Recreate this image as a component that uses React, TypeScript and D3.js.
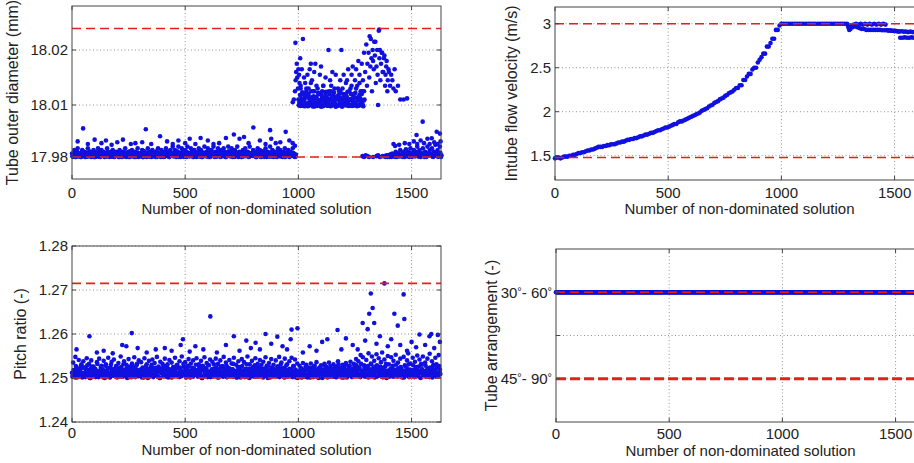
import React from 'react';
import * as d3 from 'd3';

type Pt = [number, number];

// x axis: solution number, shared by all four panels
const SOLUTION_MAX = 1630;
const xTicks = [0, 500, 1000, 1500];
const xTitle = 'Number of non-dominated solution';

// --- Tube outer diameter (mm) ---
const diameterTicks = [17.98, 18.01, 18.02];
const diameterBounds = [17.98, 18.0239];
// solutions 0..985, every 5th
const diameterLowBand = [
  17.982, 17.981, 17.984, 17.98, 17.983, 17.985, 17.981, 17.982, 17.98, 17.984,
  17.981, 17.983, 17.98, 17.982, 17.985, 17.981, 17.983, 17.98, 17.982, 17.984,
  17.98, 17.983, 17.981, 17.985, 17.982, 17.98, 17.984, 17.981, 17.983, 17.98,
  17.982, 17.985, 17.981, 17.98, 17.983, 17.982, 17.984, 17.98, 17.981, 17.983,
  17.981, 17.98, 17.984, 17.982, 17.98, 17.983, 17.981, 17.985, 17.98, 17.982,
  17.983, 17.98, 17.981, 17.984, 17.982, 17.98, 17.983, 17.981, 17.985, 17.98,
  17.982, 17.981, 17.984, 17.98, 17.983, 17.982, 17.98, 17.985, 17.981, 17.983,
  17.98, 17.984, 17.982, 17.981, 17.983, 17.98, 17.985, 17.982, 17.981, 17.984,
  17.982, 17.98, 17.983, 17.985, 17.981, 17.983, 17.98, 17.984, 17.982, 17.986,
  17.981, 17.984, 17.98, 17.983, 17.986, 17.982, 17.98, 17.985, 17.983, 17.981,
  17.984, 17.98, 17.986, 17.982, 17.981, 17.985, 17.983, 17.98, 17.984, 17.982,
  17.98, 17.983, 17.985, 17.981, 17.984, 17.98, 17.982, 17.986, 17.981, 17.983,
  17.985, 17.981, 17.98, 17.984, 17.982, 17.986, 17.98, 17.983, 17.981, 17.985,
  17.982, 17.98, 17.984, 17.981, 17.985, 17.983, 17.98, 17.982, 17.986, 17.981,
  17.983, 17.985, 17.98, 17.982, 17.984, 17.981, 17.986, 17.98, 17.983, 17.982,
  17.98, 17.984, 17.982, 17.985, 17.981, 17.983, 17.98, 17.986, 17.982, 17.981,
  17.984, 17.981, 17.983, 17.98, 17.985, 17.982, 17.984, 17.98, 17.981, 17.983,
  17.981, 17.985, 17.98, 17.983, 17.982, 17.986, 17.981, 17.984, 17.98, 17.982,
  17.983, 17.98, 17.985, 17.981, 17.984, 17.982, 17.98, 17.983, 17.985, 17.981,
  17.982, 17.984, 17.98, 17.983, 17.981, 17.985, 17.982, 17.98,
];
// solutions 2..987, every 5th (dense core of the band)
const diameterLowCore = [
  17.9805, 17.982, 17.9812, 17.98, 17.9828, 17.9815, 17.9803, 17.9822, 17.981, 17.9833,
  17.9818, 17.9801, 17.9826, 17.9808, 17.9815, 17.9831, 17.9804, 17.9821, 17.9812, 17.98,
  17.9827, 17.9809, 17.9817, 17.9802, 17.9834, 17.9813, 17.9806, 17.9824, 17.981, 17.9819,
  17.9803, 17.9829, 17.9811, 17.9822, 17.9807, 17.9816, 17.9832, 17.9801, 17.9825, 17.9814,
  17.9808, 17.982, 17.9803, 17.983, 17.9813, 17.9806, 17.9826, 17.9818, 17.9802, 17.9821,
  17.9814, 17.9833, 17.9805, 17.9819, 17.9809, 17.9828, 17.98, 17.9816, 17.9824, 17.9807,
  17.9822, 17.9811, 17.9801, 17.9835, 17.9817, 17.9804, 17.9826, 17.9813, 17.9829, 17.9802,
  17.9809, 17.9824, 17.9815, 17.9803, 17.9831, 17.982, 17.9806, 17.9818, 17.98, 17.9827,
  17.9816, 17.9802, 17.9829, 17.981, 17.9823, 17.9805, 17.9834, 17.9812, 17.9819, 17.9804,
  17.9825, 17.9813, 17.9807, 17.9832, 17.9801, 17.9821, 17.9815, 17.9828, 17.9809, 17.9818,
  17.9803, 17.983, 17.9817, 17.9806, 17.9824, 17.9811, 17.9835, 17.98, 17.9822, 17.9814,
  17.9827, 17.9808, 17.9819, 17.9802, 17.9831, 17.9816, 17.9805, 17.9825, 17.9812, 17.9829,
  17.9801, 17.9821, 17.9813, 17.9834, 17.9807, 17.9818, 17.9826, 17.9803, 17.9815, 17.9832,
  17.981, 17.9824, 17.9804, 17.9828, 17.9817, 17.9801, 17.9822, 17.9809, 17.9833, 17.9814,
  17.9806, 17.9819, 17.983, 17.9802, 17.9825, 17.9812, 17.9808, 17.9827, 17.9816, 17.98,
  17.9823, 17.9811, 17.9834, 17.9805, 17.9818, 17.9829, 17.9803, 17.9821, 17.9813, 17.9807,
  17.9831, 17.9815, 17.9801, 17.9826, 17.9809, 17.9822, 17.9817, 17.9804, 17.9833, 17.9812,
  17.9819, 17.9806, 17.9828, 17.9814, 17.9802, 17.9824, 17.981, 17.9835, 17.9808, 17.982,
  17.9803, 17.9827, 17.9816, 17.9809, 17.9831, 17.9805, 17.9822, 17.9813, 17.98, 17.9825,
  17.9811, 17.9829, 17.9804, 17.9818, 17.9806, 17.9823, 17.9815, 17.9802,
];
// solutions 4..989, every 5th (points sitting on the lower limit)
const diameterLowBase = [
  17.9801, 17.9812, 17.9806, 17.9819, 17.9803, 17.9824, 17.9809, 17.98, 17.9815, 17.9807,
  17.9821, 17.9804, 17.9813, 17.9802, 17.9818, 17.9808, 17.9825, 17.9805, 17.9811, 17.9816,
  17.98, 17.9822, 17.9809, 17.9814, 17.9803, 17.9819, 17.9806, 17.9823, 17.9801, 17.9812,
  17.9817, 17.9805, 17.9824, 17.9808, 17.9802, 17.9815, 17.9811, 17.9804, 17.982, 17.9807,
  17.9813, 17.98, 17.9818, 17.9822, 17.9806, 17.9803, 17.9816, 17.9825, 17.9809, 17.9801,
  17.9814, 17.9807, 17.9821, 17.9804, 17.9812, 17.9819, 17.9802, 17.9808, 17.9823, 17.9811,
  17.9805, 17.9817, 17.98, 17.9813, 17.9824, 17.9806, 17.981, 17.9803, 17.9818, 17.9815,
  17.9802, 17.9822, 17.9809, 17.9801, 17.9816, 17.9807, 17.9825, 17.9812, 17.9804, 17.982,
  17.9811, 17.9803, 17.9819, 17.9806, 17.9814, 17.98, 17.9823, 17.9808, 17.9817, 17.9805,
  17.9821, 17.9809, 17.9802, 17.9815, 17.9812, 17.9824, 17.9804, 17.9818, 17.9801, 17.9813,
  17.9807, 17.982, 17.9814, 17.9803, 17.9822, 17.981, 17.9806, 17.9816, 17.9825, 17.9802,
  17.9818, 17.9805, 17.9811, 17.9823, 17.98, 17.9814, 17.9808, 17.9819, 17.9803, 17.9821,
  17.9812, 17.9801, 17.9817, 17.9806, 17.9824, 17.9809, 17.9815, 17.9802, 17.982, 17.9807,
  17.9813, 17.9822, 17.9804, 17.9818, 17.9811, 17.98, 17.9825, 17.9808, 17.9816, 17.9803,
  17.9819, 17.9806, 17.9814, 17.9801, 17.9823, 17.981, 17.9805, 17.9821, 17.9812, 17.9817,
  17.9802, 17.9815, 17.9809, 17.9824, 17.9807, 17.9818, 17.9803, 17.9813, 17.982, 17.9806,
  17.9822, 17.9811, 17.98, 17.9816, 17.9825, 17.9804, 17.9812, 17.9819, 17.9808, 17.9801,
  17.9814, 17.9823, 17.9805, 17.9817, 17.9809, 17.9821, 17.9802, 17.9815, 17.9811, 17.9824,
  17.9806, 17.9813, 17.9818, 17.9803, 17.982, 17.9808, 17.9816, 17.9801, 17.9822, 17.981,
  17.9817, 17.9804, 17.9812, 17.9823, 17.9807, 17.9819, 17.9802, 17.9814,
];
const diameterLowOutliers: Pt[] = [
  [25, 17.989], [49, 17.9965], [70, 17.9875], [100, 17.99], [130, 17.988], [150, 17.9895],
  [175, 17.987], [200, 17.9885], [225, 17.99], [260, 17.9875], [280, 17.988], [310, 17.9885],
  [326, 17.996], [350, 17.9875], [389, 17.992], [420, 17.989], [445, 17.9875], [470, 17.9895],
  [500, 17.988], [520, 17.9905], [545, 17.9875], [568, 17.991], [600, 17.9895], [625, 17.9875],
  [650, 17.988], [680, 17.991], [715, 17.993], [740, 17.9905], [760, 17.9915], [780, 17.988],
  [801, 17.997], [830, 17.9895], [855, 17.9875], [875, 17.9955], [880, 17.9905], [900, 17.988],
  [920, 17.9885], [944, 17.9945], [960, 17.9895], [975, 17.988], [985, 17.9865],
];
// solutions 1000..1290, every 5th
const diameterHighBand = [
  18.011, 18.0105, 18.013, 18.01, 18.012, 18.0095, 18.0115, 18.013, 18.01, 18.012,
  18.0105, 18.014, 18.011, 18.0095, 18.0125, 18.01, 18.0115, 18.013, 18.0105, 18.012,
  18.009, 18.011, 18.0135, 18.01, 18.012, 18.0105, 18.0095, 18.0125, 18.011, 18.0135,
  18.01, 18.012, 18.0105, 18.009, 18.0115, 18.013, 18.01, 18.0125, 18.011, 18.0095,
  18.012, 18.0105, 18.014, 18.011, 18.0095, 18.0125, 18.01, 18.0135, 18.011, 18.012,
  18.0105, 18.013, 18.01, 18.0115, 18.014, 18.0105, 18.012, 18.01, 18.0125,
];
// solutions 1002..1292, every 5th
const diameterHighCore = [
  18.0098, 18.0118, 18.0105, 18.0123, 18.0095, 18.011, 18.0102, 18.0121, 18.0093, 18.0114,
  18.0107, 18.0125, 18.0099, 18.0116, 18.0092, 18.0112, 18.0104, 18.0122, 18.0097, 18.0109,
  18.0119, 18.0094, 18.0113, 18.0101, 18.0124, 18.0096, 18.0108, 18.012, 18.0093, 18.0115,
  18.0103, 18.0123, 18.0098, 18.0111, 18.0095, 18.0118, 18.0106, 18.0121, 18.0092, 18.0113,
  18.01, 18.0117, 18.0105, 18.0124, 18.0097, 18.0109, 18.012, 18.0094, 18.0114, 18.0102,
  18.0122, 18.0099, 18.0112, 18.0096, 18.0119, 18.0107, 18.0125, 18.0093, 18.011,
];
// solutions 1004..1289, every 5th
const diameterHighBase = [
  18.0101, 18.0094, 18.0112, 18.0097, 18.0108, 18.0093, 18.0115, 18.0103, 18.0096, 18.011,
  18.0099, 18.0114, 18.0092, 18.0106, 18.0101, 18.0113, 18.0095, 18.0109, 18.0098, 18.0104,
  18.0115, 18.0093, 18.0107, 18.01, 18.0112, 18.0096, 18.0103, 18.0111, 18.0094, 18.0108,
  18.0099, 18.0114, 18.0102, 18.0095, 18.011, 18.0097, 18.0113, 18.0101, 18.0092, 18.0106,
  18.0109, 18.0098, 18.0115, 18.0104, 18.0094, 18.0111, 18.01, 18.0107, 18.0096, 18.0113,
  18.0103, 18.0093, 18.0109, 18.0099, 18.0112, 18.0105, 18.0095, 18.0108,
];
const diameterHighScatter: Pt[] = [
  [975, 18.0105], [980, 18.011], [985, 18.0125], [988, 18.0145], [990, 18.016], [993, 18.0175],
  [995, 18.015], [998, 18.013], [1000, 18.0165], [1003, 18.0155], [1005, 18.014], [1008, 18.0185],
  [1010, 18.0135], [987, 18.0213], [1020, 18.022], [1015, 18.0165], [1025, 18.015], [1030, 18.014],
  [1035, 18.0125], [1040, 18.0155], [1045, 18.013], [1050, 18.0165], [1055, 18.0175], [1060, 18.0145],
  [1065, 18.0125], [1070, 18.016], [1075, 18.0175], [1080, 18.0135], [1090, 18.012], [1095, 18.0155],
  [1100, 18.017], [1105, 18.0125], [1110, 18.0135], [1120, 18.015], [1125, 18.0115], [1133, 18.02],
  [1140, 18.0145], [1145, 18.0125], [1150, 18.016], [1160, 18.013], [1165, 18.0155], [1170, 18.0115],
  [1180, 18.0125], [1185, 18.0145], [1190, 18.02], [1195, 18.013], [1200, 18.0155], [1210, 18.012],
  [1215, 18.0145], [1220, 18.0165], [1230, 18.013], [1235, 18.0155], [1240, 18.017], [1245, 18.012],
  [1250, 18.0145], [1255, 18.0165], [1260, 18.0135], [1265, 18.018], [1270, 18.0155], [1275, 18.0125],
  [1280, 18.0175], [1285, 18.0145], [1290, 18.0195], [1295, 18.016], [1300, 18.021], [1303, 18.0135],
  [1305, 18.0175], [1310, 18.0195], [1313, 18.015], [1315, 18.0225], [1318, 18.017], [1320, 18.022],
  [1323, 18.0185], [1325, 18.0125], [1328, 18.02], [1330, 18.018], [1333, 18.0165], [1335, 18.0215],
  [1338, 18.019], [1340, 18.0215], [1342, 18.014], [1345, 18.017], [1348, 18.02], [1350, 18.0155],
  [1352, 18.01], [1355, 18.0235], [1357, 18.0237], [1358, 18.0185], [1360, 18.02], [1362, 18.0145],
  [1365, 18.0175], [1368, 18.0195], [1370, 18.0195], [1372, 18.016], [1375, 18.016], [1378, 18.0185],
  [1380, 18.019], [1383, 18.0135], [1385, 18.0155], [1388, 18.017], [1390, 18.018], [1393, 18.0125],
  [1395, 18.0145], [1398, 18.0165], [1400, 18.016], [1405, 18.0135], [1410, 18.0155], [1415, 18.0145],
  [1420, 18.013], [1425, 18.0165], [1430, 18.0125], [1440, 18.0135], [1450, 18.011], [1465, 18.011],
  [1480, 18.0112],
];
const diameterFloorGroup: Pt[] = [
  [1283, 17.9805], [1290, 17.98], [1297, 17.981], [1305, 17.9805], [1312, 17.98], [1330, 17.98],
  [1345, 17.9805], [1352, 17.981], [1360, 17.98], [1372, 17.9805], [1380, 17.9805],
];
// solutions 1385..1630, every 5th
const diameterRightBand = [
  17.98, 17.981, 17.98, 17.9805, 17.981, 17.98, 17.982, 17.9805, 17.981, 17.983,
  17.98, 17.982, 17.981, 17.984, 17.9805, 17.982, 17.983, 17.98, 17.9845, 17.981,
  17.983, 17.98, 17.985, 17.982, 17.981, 17.984, 17.9805, 17.983, 17.986, 17.981,
  17.984, 17.98, 17.982, 17.985, 17.981, 17.983, 17.98, 17.986, 17.982, 17.984,
  17.981, 17.985, 17.98, 17.983, 17.987, 17.981, 17.984, 17.982, 17.986, 17.98,
];
// solutions 1387..1632, every 5th
const diameterRightCore = [
  17.9805, 17.9802, 17.981, 17.98, 17.9815, 17.9803, 17.9808, 17.9812, 17.9801, 17.9818,
  17.9806, 17.982, 17.9803, 17.9811, 17.9816, 17.98, 17.9822, 17.9809, 17.9814, 17.9804,
  17.9819, 17.9807, 17.9824, 17.9801, 17.9813, 17.9821, 17.9805, 17.9817, 17.9826, 17.9802,
  17.9811, 17.9823, 17.9808, 17.9816, 17.98, 17.9825, 17.9814, 17.9806, 17.982, 17.9809,
  17.9818, 17.9803, 17.9828, 17.9812, 17.9807, 17.9822, 17.9801, 17.9815, 17.9824, 17.981,
];
const diameterRightOutliers: Pt[] = [
  [1420, 17.9875], [1427, 17.9864], [1445, 17.987], [1470, 17.988], [1490, 17.9875], [1510, 17.989],
  [1522, 17.9927], [1525, 17.9875], [1540, 17.9895], [1549, 18.0004], [1555, 17.988], [1570, 17.9905],
  [1580, 17.9875], [1589, 17.9908], [1600, 17.9885], [1611, 17.9946], [1615, 17.9875], [1625, 17.9935],
  [1628, 17.989],
];

// --- Intube flow velocity (m/s) ---
const velocityTicks = [1.5, 2, 2.5, 3];
const velocityBounds = [1.48, 3.0];
// solutions 0..992, every 8th
const velocityRise = [
  1.47, 1.48, 1.48, 1.47, 1.48, 1.49, 1.49, 1.49, 1.5, 1.5,
  1.51, 1.51, 1.52, 1.53, 1.53, 1.54, 1.54, 1.55, 1.56, 1.56,
  1.57, 1.57, 1.58, 1.59, 1.6, 1.6, 1.6, 1.61, 1.61, 1.62,
  1.62, 1.63, 1.63, 1.63, 1.64, 1.65, 1.65, 1.66, 1.66, 1.67,
  1.68, 1.68, 1.69, 1.69, 1.7, 1.7, 1.71, 1.72, 1.72, 1.73,
  1.74, 1.74, 1.75, 1.76, 1.76, 1.77, 1.78, 1.79, 1.79, 1.8,
  1.81, 1.82, 1.82, 1.83, 1.84, 1.85, 1.86, 1.86, 1.88, 1.89,
  1.89, 1.9, 1.91, 1.92, 1.93, 1.94, 1.95, 1.96, 1.97, 1.98,
  1.99, 2.01, 2.02, 2.03, 2.04, 2.06, 2.07, 2.08, 2.1, 2.11,
  2.12, 2.14, 2.15, 2.16, 2.18, 2.19, 2.21, 2.22, 2.23, 2.25,
  2.27, 2.27, 2.3, 2.3, 2.36, 2.36, 2.4, 2.43, 2.43, 2.48,
  2.5, 2.5, 2.56, 2.59, 2.62, 2.66, 2.66, 2.74, 2.74, 2.78,
  2.83, 2.83, 2.93, 2.93, 2.98,
];
const velocityPlateau: Pt[] = [
  [1000, 3], [1010, 3], [1020, 3], [1030, 3], [1040, 3], [1050, 3], [1060, 3], [1070, 3],
  [1080, 3], [1090, 3], [1100, 3], [1110, 3], [1120, 3], [1130, 3], [1140, 3], [1150, 3],
  [1160, 3], [1170, 3], [1180, 3], [1190, 3], [1200, 3], [1210, 3], [1220, 3], [1230, 3],
  [1240, 3], [1250, 3], [1260, 3], [1270, 3], [1280, 3], [1290, 3],
  [1295, 2.97], [1297, 2.95], [1300, 2.93], [1302, 2.96], [1305, 2.94], [1308, 2.97],
  [1310, 2.98], [1315, 2.96], [1320, 2.99], [1325, 2.97], [1330, 3], [1335, 2.96],
  [1340, 2.99], [1345, 2.95], [1350, 3], [1355, 2.94], [1360, 2.99], [1365, 2.94],
  [1370, 3], [1375, 2.93], [1380, 2.99], [1385, 2.93], [1390, 3], [1395, 2.93],
  [1400, 2.99], [1405, 2.93], [1410, 3], [1415, 2.93], [1420, 2.99], [1425, 2.93],
  [1430, 3], [1435, 2.93], [1440, 2.99], [1445, 2.925], [1450, 3], [1455, 2.925],
  [1460, 2.99], [1465, 2.925], [1470, 2.925], [1475, 2.92], [1480, 2.925], [1485, 2.92],
  [1490, 2.92], [1495, 2.92], [1500, 2.915], [1505, 2.92], [1510, 2.915], [1515, 2.915],
  [1520, 2.91], [1525, 2.84], [1530, 2.915], [1535, 2.84], [1540, 2.91], [1545, 2.845],
  [1550, 2.91], [1555, 2.84], [1560, 2.905], [1565, 2.84], [1570, 2.91], [1575, 2.845],
  [1580, 2.905], [1585, 2.84], [1590, 2.905], [1595, 2.84], [1600, 2.9], [1605, 2.84],
  [1610, 2.9], [1615, 2.84], [1620, 2.9], [1625, 2.84], [1630, 2.9],
];

// --- Pitch ratio (-) ---
const pitchTicks = [1.24, 1.25, 1.26, 1.27, 1.28];
const pitchBounds = [1.25, 1.2715];
// solutions 0..1625, every 5th
const pitchBand = [
  1.2512, 1.2535, 1.2503, 1.2548, 1.2521, 1.2507, 1.2541, 1.2515, 1.2529, 1.2501,
  1.2538, 1.251, 1.2524, 1.2545, 1.2504, 1.2532, 1.2517, 1.254, 1.2508, 1.2526,
  1.2519, 1.2502, 1.2536, 1.2513, 1.2544, 1.2506, 1.2528, 1.252, 1.2539, 1.25,
  1.2531, 1.2514, 1.2546, 1.2505, 1.2523, 1.2537, 1.2509, 1.2542, 1.2516, 1.2527,
  1.2503, 1.2534, 1.2511, 1.2549, 1.252, 1.2506, 1.2538, 1.2513, 1.253, 1.2501,
  1.2543, 1.2518, 1.2507, 1.2533, 1.2524, 1.2547, 1.2502, 1.2529, 1.2515, 1.254,
  1.2509, 1.2536, 1.2521, 1.2504, 1.2545, 1.2512, 1.2531, 1.25, 1.2539, 1.2517,
  1.2526, 1.2542, 1.2508, 1.2534, 1.2514, 1.2548, 1.2503, 1.2522, 1.2537, 1.251,
  1.2532, 1.2505, 1.2544, 1.2519, 1.2527, 1.2501, 1.2541, 1.2513, 1.2535, 1.2507,
  1.2523, 1.2546, 1.2511, 1.253, 1.2504, 1.2538, 1.2516, 1.2549, 1.2509, 1.2525,
  1.2536, 1.2502, 1.2528, 1.2543, 1.2514, 1.2533, 1.2506, 1.254, 1.252, 1.2512,
  1.2545, 1.2508, 1.2531, 1.2517, 1.2539, 1.25, 1.2526, 1.2547, 1.2513, 1.2534,
  1.2503, 1.2529, 1.2542, 1.251, 1.2537, 1.2521, 1.2505, 1.2544, 1.2516, 1.2532,
  1.2518, 1.254, 1.2507, 1.2527, 1.2548, 1.2511, 1.2535, 1.2502, 1.2523, 1.2541,
  1.2509, 1.2533, 1.2519, 1.2546, 1.2504, 1.253, 1.2514, 1.2538, 1.2525, 1.2501,
  1.2543, 1.2512, 1.2536, 1.252, 1.2506, 1.2549, 1.2517, 1.2531, 1.2508, 1.2539,
  1.2524, 1.2503, 1.2545, 1.2515, 1.2532, 1.251, 1.2541, 1.2522, 1.2505, 1.2537,
  1.2513, 1.2547, 1.2528, 1.25, 1.2534, 1.2518, 1.2543, 1.2507, 1.253, 1.2516,
  1.254, 1.2504, 1.2526, 1.2548, 1.2511, 1.2535, 1.2521, 1.2502, 1.2544, 1.2519,
  1.2531, 1.2509, 1.2538, 1.2514, 1.2546, 1.2506, 1.2527, 1.2542, 1.2501, 1.2533,
  1.2512, 1.2528, 1.2503, 1.2521, 1.2534, 1.2508, 1.2517, 1.253, 1.2501, 1.2524,
  1.2506, 1.2533, 1.2515, 1.2502, 1.2527, 1.2519, 1.2536, 1.2504, 1.2522, 1.2511,
  1.2529, 1.25, 1.2518, 1.2532, 1.2507, 1.2525, 1.2513, 1.2535, 1.2503, 1.252,
  1.2509, 1.2531, 1.2516, 1.2502, 1.2526, 1.2538, 1.2505, 1.2523, 1.2514, 1.253,
  1.2501, 1.2519, 1.2534, 1.2508, 1.2527, 1.2512, 1.2537, 1.2504, 1.2521, 1.2532,
  1.2515, 1.2543, 1.2506, 1.2538, 1.2524, 1.2552, 1.251, 1.2547, 1.2529, 1.2503,
  1.2541, 1.2518, 1.2556, 1.2507, 1.2533, 1.2549, 1.2512, 1.2539, 1.2526, 1.2554,
  1.2504, 1.2545, 1.252, 1.2536, 1.2558, 1.2511, 1.2542, 1.2527, 1.2501, 1.255,
  1.2531, 1.2514, 1.2547, 1.2523, 1.2539, 1.2506, 1.2553, 1.2517, 1.2535, 1.2509,
  1.2544, 1.2521, 1.2502, 1.2548, 1.2529, 1.2513, 1.254, 1.2556, 1.2508, 1.2533,
  1.2518, 1.2546, 1.2504, 1.2537, 1.2525, 1.2551, 1.2511, 1.2542, 1.25, 1.253,
  1.2549, 1.2516, 1.2535, 1.2507, 1.2544, 1.2522, 1.2555, 1.2503, 1.2538, 1.2527,
  1.2512, 1.2546, 1.2531, 1.2505, 1.2552, 1.252,
];
// solutions 2..1627, every 5th (dense core of the band)
const pitchCore = [
  1.2503, 1.2518, 1.2509, 1.2527, 1.2501, 1.2514, 1.2522, 1.2506, 1.2531, 1.2511,
  1.2524, 1.2504, 1.2516, 1.2529, 1.2508, 1.2519, 1.25, 1.2526, 1.2512, 1.2505,
  1.2521, 1.2509, 1.2532, 1.2502, 1.2515, 1.2525, 1.2507, 1.2518, 1.2513, 1.2528,
  1.2504, 1.2523, 1.251, 1.2501, 1.253, 1.2516, 1.2506, 1.2521, 1.2512, 1.2527,
  1.2508, 1.2519, 1.2503, 1.2525, 1.2514, 1.2531, 1.2505, 1.2517, 1.2522, 1.2509,
  1.2526, 1.2502, 1.2513, 1.2529, 1.2507, 1.252, 1.2511, 1.2532, 1.2504, 1.2516,
  1.2519, 1.2506, 1.2524, 1.2501, 1.2515, 1.2528, 1.2509, 1.2521, 1.2503, 1.2512,
  1.253, 1.2507, 1.2518, 1.2523, 1.2505, 1.2514, 1.2526, 1.25, 1.2517, 1.2522,
  1.2511, 1.2527, 1.2504, 1.2516, 1.2531, 1.2508, 1.252, 1.2513, 1.2502, 1.2525,
  1.2506, 1.2519, 1.2529, 1.2512, 1.2503, 1.2524, 1.2515, 1.2508, 1.2532, 1.251,
  1.2521, 1.2505, 1.2517, 1.2527, 1.2501, 1.2514, 1.2523, 1.2507, 1.2519, 1.253,
  1.2512, 1.2503, 1.2525, 1.2509, 1.2518, 1.2528, 1.2504, 1.2516, 1.2522, 1.2506,
  1.2529, 1.2511, 1.2502, 1.252, 1.2515, 1.2531, 1.2507, 1.2524, 1.2513, 1.2501,
  1.2517, 1.2526, 1.2508, 1.2503, 1.2522, 1.2512, 1.2529, 1.2505, 1.2519, 1.2514,
  1.2504, 1.252, 1.2532, 1.251, 1.2516, 1.2501, 1.2525, 1.2509, 1.2523, 1.2507,
  1.2527, 1.2513, 1.2506, 1.2518, 1.2531, 1.2502, 1.2521, 1.2515, 1.2508, 1.2524,
  1.2511, 1.2529, 1.2503, 1.2514, 1.2525, 1.2509, 1.2519, 1.253, 1.2505, 1.2517,
  1.2522, 1.2507, 1.2512, 1.2528, 1.2501, 1.2516, 1.2524, 1.2504, 1.252, 1.2513,
  1.2506, 1.2526, 1.2518, 1.2502, 1.2531, 1.2511, 1.2508, 1.2523, 1.2515, 1.2529,
  1.2503, 1.2517, 1.2521, 1.2509, 1.2514, 1.2527, 1.2505, 1.2519, 1.2512, 1.25,
  1.2514, 1.2506, 1.2522, 1.2502, 1.2517, 1.2511, 1.2526, 1.2504, 1.2519, 1.2509,
  1.2501, 1.2523, 1.2513, 1.2507, 1.2528, 1.2516, 1.2503, 1.252, 1.2511, 1.2525,
  1.2508, 1.2518, 1.2502, 1.2529, 1.2514, 1.2505, 1.2521, 1.2512, 1.2527, 1.2506,
  1.2516, 1.2503, 1.2524, 1.251, 1.2519, 1.2531, 1.2507, 1.2513, 1.2501, 1.2522,
  1.2526, 1.2509, 1.2515, 1.2504, 1.252, 1.2528, 1.2511, 1.2502, 1.2517, 1.2524,
  1.2507, 1.2529, 1.2513, 1.2521, 1.2503, 1.2532, 1.2516, 1.2509, 1.2525, 1.2518,
  1.2512, 1.2527, 1.2505, 1.2519, 1.2531, 1.2508, 1.2523, 1.2501, 1.2514, 1.2529,
  1.252, 1.2506, 1.2526, 1.2511, 1.2502, 1.2524, 1.2517, 1.2532, 1.2509, 1.2515,
  1.2503, 1.2521, 1.2513, 1.2528, 1.2507, 1.2518, 1.253, 1.2504, 1.2522, 1.2511,
  1.2525, 1.2509, 1.2516, 1.2501, 1.2527, 1.2514, 1.2506, 1.2531, 1.2519, 1.2508,
  1.2513, 1.2529, 1.2502, 1.2522, 1.2517, 1.2505, 1.2526, 1.2511, 1.2532, 1.252,
  1.2507, 1.2515, 1.2528, 1.2503, 1.2521, 1.251, 1.2524, 1.2518, 1.2501, 1.253,
  1.2514, 1.2506, 1.2523, 1.2512, 1.2527, 1.2509,
];
// solutions 4..1624, every 5th (points close to the lower limit)
const pitchBase = [
  1.2506, 1.2514, 1.2501, 1.2519, 1.2509, 1.2503, 1.2517, 1.2511, 1.2522, 1.2505,
  1.2512, 1.2502, 1.2518, 1.2508, 1.2515, 1.25, 1.2521, 1.2507, 1.2513, 1.2504,
  1.2519, 1.2509, 1.2503, 1.2516, 1.2511, 1.2522, 1.2506, 1.2501, 1.2514, 1.2508,
  1.2517, 1.2504, 1.2512, 1.2502, 1.252, 1.251, 1.2505, 1.2518, 1.2513, 1.2501,
  1.2509, 1.2521, 1.2507, 1.2515, 1.2503, 1.2511, 1.2519, 1.2506, 1.25, 1.2514,
  1.2522, 1.2508, 1.2502, 1.2516, 1.2512, 1.2504, 1.252, 1.251, 1.2517, 1.2505,
  1.2513, 1.2501, 1.2518, 1.2507, 1.2511, 1.2521, 1.2503, 1.2515, 1.2509, 1.2506,
  1.2519, 1.2502, 1.2514, 1.2522, 1.2508, 1.2504, 1.2516, 1.25, 1.2512, 1.252,
  1.2505, 1.2517, 1.251, 1.2503, 1.2521, 1.2507, 1.2513, 1.2501, 1.2518, 1.2509,
  1.2515, 1.2506, 1.2522, 1.2511, 1.2502, 1.2519, 1.2504, 1.2514, 1.2508, 1.2516,
  1.2501, 1.252, 1.2512, 1.2505, 1.2517, 1.2509, 1.2503, 1.2521, 1.2507, 1.2513,
  1.2518, 1.2504, 1.251, 1.2515, 1.25, 1.2522, 1.2506, 1.2511, 1.2519, 1.2502,
  1.2514, 1.2508, 1.2516, 1.2503, 1.252, 1.2512, 1.2505, 1.2517, 1.2501, 1.2509,
  1.2521, 1.2507, 1.2513, 1.2504, 1.2518, 1.251, 1.2502, 1.2515, 1.2522, 1.2506,
  1.2511, 1.2519, 1.2503, 1.2514, 1.2508, 1.2501, 1.2516, 1.252, 1.2505, 1.2512,
  1.2517, 1.2509, 1.2502, 1.2521, 1.2507, 1.2513, 1.25, 1.2518, 1.2504, 1.251,
  1.2515, 1.2522, 1.2506, 1.2511, 1.2503, 1.2519, 1.2508, 1.2514, 1.2501, 1.2516,
  1.2505, 1.252, 1.2512, 1.2509, 1.2517, 1.2502, 1.2513, 1.2521, 1.2507, 1.2504,
  1.2518, 1.2511, 1.2503, 1.2515, 1.2522, 1.2506, 1.251, 1.2501, 1.2519, 1.2508,
  1.2514, 1.2505, 1.2516, 1.252, 1.2502, 1.2512, 1.2509, 1.2517, 1.2504, 1.2513,
  1.2507, 1.2519, 1.2501, 1.2511, 1.2515, 1.2503, 1.2521, 1.2508, 1.2506, 1.2514,
  1.2502, 1.2517, 1.251, 1.2522, 1.2505, 1.2512, 1.2518, 1.25, 1.2509, 1.2516,
  1.2513, 1.2504, 1.252, 1.2507, 1.2511, 1.2501, 1.2515, 1.2519, 1.2503, 1.2508,
  1.2521, 1.2506, 1.2514, 1.2502, 1.2517, 1.251, 1.2505, 1.2522, 1.2512, 1.2509,
  1.2504, 1.2518, 1.2501, 1.2513, 1.252, 1.2507, 1.2516, 1.2503, 1.2511, 1.2519,
  1.2506, 1.2514, 1.2522, 1.2508, 1.2502, 1.2517, 1.2512, 1.2505, 1.2521, 1.251,
  1.2515, 1.2501, 1.2509, 1.2519, 1.2504, 1.2513, 1.2507, 1.252, 1.2503, 1.2516,
  1.2511, 1.2522, 1.2506, 1.2514, 1.2502, 1.2518, 1.2509, 1.25, 1.2517, 1.2505,
  1.2512, 1.2508, 1.2521, 1.2503, 1.2515, 1.2511, 1.2519, 1.2504, 1.2513, 1.2507,
  1.252, 1.2501, 1.2516, 1.251, 1.2506, 1.2522, 1.2514, 1.2502, 1.2518, 1.2509,
  1.2505, 1.2517, 1.2512, 1.2503, 1.2521, 1.2508, 1.2515, 1.2501, 1.2519, 1.2511,
  1.2507, 1.2513, 1.2504, 1.252, 1.2516, 1.2502, 1.2509, 1.2522, 1.2506, 1.2514,
  1.2518, 1.2503, 1.2511, 1.2505, 1.2515,
];
const pitchOutliers: Pt[] = [
  [20, 1.2565], [77, 1.2595], [110, 1.2558], [140, 1.2562], [180, 1.2556], [222, 1.2575],
  [240, 1.2572], [264, 1.2602], [290, 1.2568], [330, 1.2558], [370, 1.2565], [410, 1.2568],
  [440, 1.2562], [480, 1.2575], [490, 1.2588], [520, 1.256], [545, 1.2572], [580, 1.2565],
  [611, 1.264], [640, 1.2558], [680, 1.2575], [715, 1.2595], [740, 1.2562], [770, 1.2585],
  [790, 1.2568], [811, 1.258], [830, 1.2565], [855, 1.26], [880, 1.2578], [907, 1.2594],
  [930, 1.2572], [950, 1.2565], [966, 1.2588], [970, 1.261], [996, 1.2613], [1020, 1.2558],
  [1050, 1.2572], [1080, 1.2562], [1105, 1.2582], [1128, 1.2588], [1173, 1.2609], [1190, 1.2565],
  [1210, 1.259], [1240, 1.2575], [1262, 1.2565], [1284, 1.2625], [1295, 1.2585], [1306, 1.2611],
  [1313, 1.2646], [1320, 1.2692], [1328, 1.2659], [1335, 1.2625], [1345, 1.2578], [1360, 1.2595],
  [1380, 1.2715], [1395, 1.2572], [1410, 1.2588], [1424, 1.2646], [1439, 1.2619], [1450, 1.2575],
  [1465, 1.269], [1468, 1.2634], [1480, 1.2562], [1500, 1.2582], [1520, 1.257], [1535, 1.2599],
  [1560, 1.2575], [1579, 1.2595], [1587, 1.26], [1600, 1.2568], [1616, 1.2598], [1625, 1.2582],
];

// --- Tube arrangement (-) --- 0 = 45°-90°, 1 = 30°-60°
const arrangementTicks = [0, 0.5, 1];
const arrangementLabels = ['45°- 90°', '', '30°- 60°'];
const arrangementBounds = [0, 1];
const arrangementChosen = 1; // every solution uses 30°-60°

const BLUE = '#1010e0';
const RED = '#e3201e';
const FONT = '"Liberation Sans", Arial, Helvetica, sans-serif';

const sampled = (start: number, step: number, vals: number[]): Pt[] =>
  vals.map((v, i) => [start + i * step, v]);

// small raised degree sign, as in the original figure
const degreeLabel = (s: string) =>
  s.split('°').map((part, i, arr) => (
    <React.Fragment key={i}>
      {part}
      {i < arr.length - 1 && <tspan fontSize={11} baselineShift="3">°</tspan>}
    </React.Fragment>
  ));

interface PanelProps {
  left: number;
  top: number;
  width: number;
  height: number;
  y: d3.ScaleLinear<number, number>;
  yTicks: number[];
  yTickLabels?: string[];
  yLabel: string;
  yLabelX: number;
  tickY: number;
  titleY: number;
  points: Pt[];
  bounds: number[];
  boundWidths?: number[];
}

const Panel = ({ left, top, width, height, y, yTicks, yTickLabels, yLabel, yLabelX,
  tickY, titleY, points, bounds, boundWidths = [] }: PanelProps) => {
  const x = d3.scaleLinear().domain([0, SOLUTION_MAX]).range([left, left + width]);
  const bottom = top + height;
  const right = left + width;
  const tickLen = 4;
  const fmt = (v: number, i: number) => (yTickLabels ? degreeLabel(yTickLabels[i]) : String(v));

  return (
    <g>
      {/* grid */}
      {xTicks.slice(1).map((t) => (
        <line key={'gx' + t} x1={x(t)} x2={x(t)} y1={top} y2={bottom}
          stroke="#777" strokeWidth={0.8} strokeDasharray="1 2.5" />
      ))}
      {yTicks.map((t) => (
        <line key={'gy' + t} x1={left} x2={right} y1={y(t)} y2={y(t)}
          stroke="#777" strokeWidth={0.8} strokeDasharray="1 2.5" />
      ))}

      {points.map((p, i) => (
        <circle key={i} cx={x(p[0])} cy={y(p[1])} r={2.3} fill={BLUE} />
      ))}

      {/* constraint limits */}
      {bounds.map((b, i) => (
        <line key={'b' + i} x1={left} x2={right} y1={y(b)} y2={y(b)}
          stroke={RED} strokeWidth={boundWidths[i] || 1.6}
          strokeDasharray={boundWidths[i] ? '10 4' : '9 5'} />
      ))}

      {/* box + inward ticks */}
      <rect x={left} y={top} width={width} height={height} fill="none" stroke="#444" strokeWidth={1} />
      {xTicks.map((t) => (
        <g key={'tx' + t}>
          <line x1={x(t)} x2={x(t)} y1={bottom} y2={bottom - tickLen} stroke="#444" />
          <line x1={x(t)} x2={x(t)} y1={top} y2={top + tickLen} stroke="#444" />
          <text x={x(t)} y={tickY} textAnchor="middle" fontSize={15} fill="#222">{t}</text>
        </g>
      ))}
      {yTicks.map((t, i) => (
        <g key={'ty' + t}>
          <line x1={left} x2={left + tickLen} y1={y(t)} y2={y(t)} stroke="#444" />
          <line x1={right} x2={right - tickLen} y1={y(t)} y2={y(t)} stroke="#444" />
          <text x={left - 4} y={y(t)} dy="0.36em" textAnchor="end" fontSize={15} fill="#222">
            {fmt(t, i)}
          </text>
        </g>
      ))}

      <text x={left + width / 2} y={titleY} textAnchor="middle" fontSize={15} fill="#222">{xTitle}</text>
      <text transform={`translate(${yLabelX},${top + height / 2}) rotate(-90)`} textAnchor="middle"
        fontSize={16} fill="#222">{yLabel}</text>
    </g>
  );
};

const App = () => {
  const W = 369;

  // tick labels on this axis are not evenly spaced in value, so the scale is piecewise
  const yDiameter = d3.scaleLinear().domain([17.9673, 17.98, 18.01, 18.028]).range([179, 157, 105, 6]);
  const yVelocity = d3.scaleLinear().domain([1.224, 3.19]).range([180, 7]);
  const yPitch = d3.scaleLinear().domain([1.24, 1.28]).range([422, 246]);
  const yArrangement = d3.scaleLinear().domain([-0.5, 1.5]).range([422, 249]);

  const diameterPoints: Pt[] = [
    ...sampled(0, 5, diameterLowBand),
    ...sampled(2, 5, diameterLowCore),
    ...sampled(4, 5, diameterLowBase),
    ...diameterLowOutliers,
    ...sampled(1000, 5, diameterHighBand),
    ...sampled(1002, 5, diameterHighCore),
    ...sampled(1004, 5, diameterHighBase),
    ...diameterHighScatter,
    ...diameterFloorGroup,
    ...sampled(1385, 5, diameterRightBand),
    ...sampled(1387, 5, diameterRightCore),
    ...diameterRightOutliers,
  ];
  const velocityPoints: Pt[] = [...sampled(0, 8, velocityRise), ...velocityPlateau];
  const pitchPoints: Pt[] = [
    ...sampled(0, 5, pitchBand),
    ...sampled(2, 5, pitchCore),
    ...sampled(4, 5, pitchBase),
    ...pitchOutliers,
  ];
  const arrangementPoints: Pt[] = d3.range(0, SOLUTION_MAX + 1, 2).map((n) => [n, arrangementChosen]);

  return (
    <svg width={914} height={463} style={{ position: 'absolute', left: 0, top: 0, background: '#fff' }}
      fontFamily={FONT}>
      <Panel left={72} top={6} width={W} height={173} y={yDiameter}
        yTicks={diameterTicks} yLabel="Tube outer diameter (mm)" yLabelX={18}
        tickY={198} titleY={214} points={diameterPoints} bounds={diameterBounds} />
      <Panel left={555} top={7} width={W} height={173} y={yVelocity}
        yTicks={velocityTicks} yLabel="Intube flow velocity (m/s)" yLabelX={517}
        tickY={198} titleY={214} points={velocityPoints} bounds={velocityBounds} />
      <Panel left={72} top={246} width={W} height={176} y={yPitch}
        yTicks={pitchTicks} yTickLabels={pitchTicks.map((t) => t.toFixed(2))}
        yLabel="Pitch ratio (-)" yLabelX={26}
        tickY={438} titleY={455} points={pitchPoints} bounds={pitchBounds} />
      <Panel left={556} top={249} width={W} height={173} y={yArrangement}
        yTicks={arrangementTicks} yTickLabels={arrangementLabels}
        yLabel="Tube arrangement (-)" yLabelX={497}
        tickY={439} titleY={456} points={arrangementPoints} bounds={arrangementBounds}
        boundWidths={[3.2, 0]} />
    </svg>
  );
};

export default App;
